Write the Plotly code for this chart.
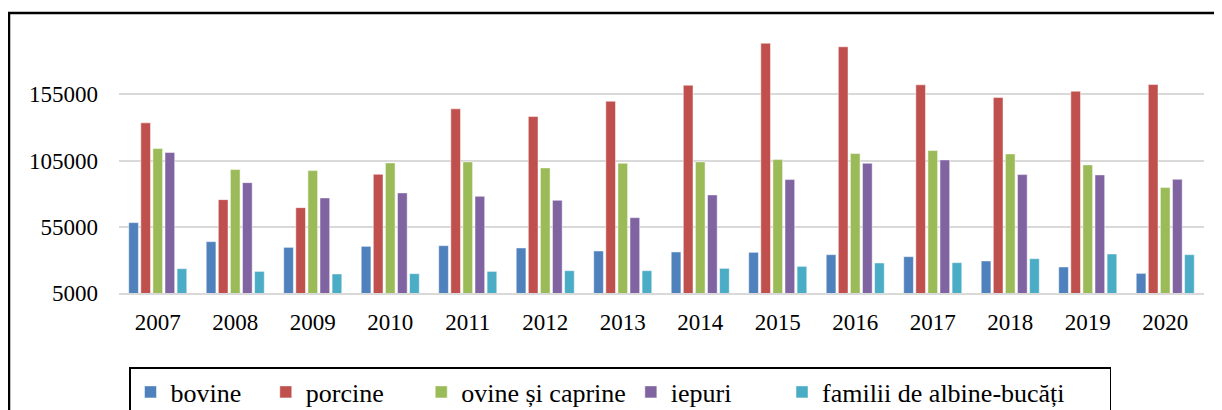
import plotly.graph_objects as go

years = ["2007", "2008", "2009", "2010", "2011", "2012", "2013", "2014",
         "2015", "2016", "2017", "2018", "2019", "2020"]
bovine = [58100, 43750, 39440, 40200, 40730, 38990, 36720, 35970, 35670, 33930, 32420, 29170, 24640, 19800]
porcine = [133400, 75470, 69430, 94580, 143970, 138160, 149720, 161800, 193500, 190800, 162100, 152510, 157270, 162330]
ovine = [114000, 98130, 97370, 103190, 103940, 99410, 102890, 103940, 105680, 110210, 112480, 109990, 101680, 84530]
iepuri = [111000, 88300, 76750, 80530, 77960, 74940, 61870, 79020, 90580, 102890, 105450, 94350, 94130, 90800]
albine = [23350, 21300, 19350, 19580, 21300, 21840, 21840, 23580, 25090, 27660, 27890, 30910, 34460, 33930]

series_names = ["bovine", "porcine", "ovine și caprine", "iepuri", "familii de albine-bucăți"]
series_values = [bovine, porcine, ovine, iepuri, albine]
colors = ["#4F81BD", "#C0504D", "#9BBB59", "#8064A2", "#4BACC6"]
y_ticks = [5000, 55000, 105000, 155000]

# extra spacing (non-breaking spaces) after each legend entry
legend_pad = [3, 5, 0, 7, 6]

fig = go.Figure()
for name, vals, col, pad in zip(series_names, series_values, colors, legend_pad):
    fig.add_trace(go.Bar(x=years, y=vals, name=name + "\u00a0" * pad,
                         marker=dict(color=col, line=dict(width=0.6, color="rgba(255,255,255,0.8)"))))

FF = "Liberation Serif"
# page body has an 8px margin, so figure coordinates = picture coordinates - 8
L, R, T, B = 111, 26, 20, 125
PW, PH = 1222 - L - R, 410 - T - B

fig.update_layout(
    width=1222, height=410,
    margin=dict(l=L, r=R, t=T, b=B, autoexpand=False),
    paper_bgcolor="white", plot_bgcolor="white",
    barmode="group", bargap=0.22, bargroupgap=0.2,
    font=dict(family=FF, size=23, color="black"),
    showlegend=True,
    legend=dict(orientation="h", x=(121 - L) / PW, y=(285 - 359) / PH,
                xanchor="left", yanchor="top",
                bordercolor="black", borderwidth=1.5,
                font=dict(family=FF, size=26, color="black"),
                traceorder="normal"),
    xaxis=dict(showgrid=False, showline=True, linecolor="#d9d9d9", linewidth=1.5,
               ticks="", ticklabelstandoff=8, automargin=False,
               tickfont=dict(family=FF, size=23, color="black")),
    yaxis=dict(range=[5000, 205000], tickvals=y_ticks, ticktext=[str(v) for v in y_ticks],
               showgrid=True, gridcolor="#d9d9d9", gridwidth=1.5, zeroline=False,
               showline=False, ticks="", ticklabelstandoff=20, automargin=False,
               tickfont=dict(family=FF, size=23, color="black")),
    shapes=[dict(type="rect", xref="paper", yref="paper",
                 x0=(1 - L) / PW, x1=1 + (R + 10) / PW, y0=-(B + 10) / PH, y1=1 + (T - 5) / PH,
                 line=dict(color="black", width=2.5), fillcolor="rgba(0,0,0,0)", layer="below")],
)

fig.write_html("out.html")
